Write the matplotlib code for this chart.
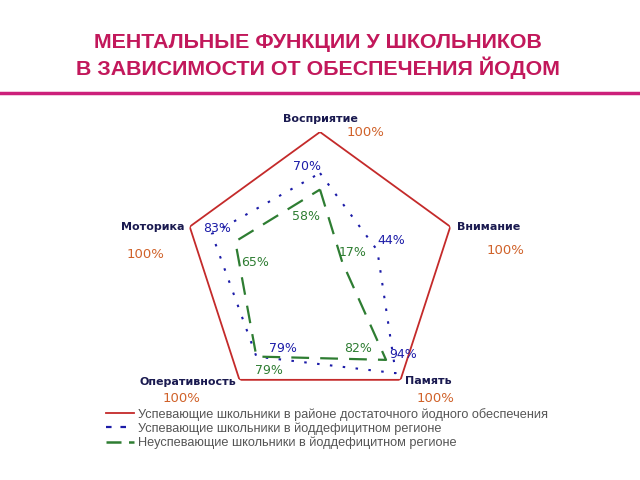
import numpy as np
import matplotlib
matplotlib.use("Agg")
import matplotlib.pyplot as plt
from matplotlib.lines import Line2D

# data
categories = ["Восприятие", "Внимание", "Память", "Оперативность", "Моторика"]
red_vals = [100, 100, 100, 100, 100]
blue_vals = [70, 44, 94, 79, 83]
green_vals = [58, 17, 82, 79, 65]
series_names = [
    "Успевающие школьники в районе достаточного йодного обеспечения",
    "Успевающие школьники в йоддефицитном регионе",
    "Неуспевающие школьники в йоддефицитном регионе",
]

W, H = 640, 480
fig = plt.figure(figsize=(W / 100, H / 100), dpi=100)


def px(x, y):
    return x / W, 1 - y / H


# polar axes: center (320, 269) px, radius 137 px
cx, cy, R = 320, 269, 137
ax = fig.add_axes([(cx - R) / W, (H - cy - R) / H, 2 * R / W, 2 * R / H],
                  projection="polar")
ax.set_theta_zero_location("N")
ax.set_theta_direction(-1)
ax.set_ylim(0, 100)
ax.grid(False)
ax.set_xticks([])
ax.set_yticks([])
ax.spines["polar"].set_visible(False)
ax.patch.set_alpha(0)

angles = np.linspace(0, 2 * np.pi, len(categories), endpoint=False)
ang_closed = np.append(angles, angles[0])


def closed(v):
    return np.append(v, v[0])


red_c = "#c42a2a"
blue_c = "#1c1ca8"
green_c = "#2e7d32"

ax.plot(ang_closed, closed(red_vals), color=red_c, lw=1.3)
ax.plot(ang_closed, closed(blue_vals), color=blue_c, lw=1.5,
        linestyle=(0, (1.2, 5)))
ax.plot(ang_closed, closed(green_vals), color=green_c, lw=1.6,
        linestyle=(0, (8, 5)))

# title
title_c = "#c2185b"
fig.text(*px(318, 43), "МЕНТАЛЬНЫЕ ФУНКЦИИ У ШКОЛЬНИКОВ", ha="center", va="center",
         fontsize=15.4, fontweight="bold", color=title_c, family="Liberation Sans")
fig.text(*px(318, 68), "В ЗАВИСИМОСТИ ОТ ОБЕСПЕЧЕНИЯ ЙОДОМ", ha="center", va="center",
         fontsize=15.4, fontweight="bold", color=title_c, family="Liberation Sans")
fig.add_artist(Line2D([0, 1], [1 - 93 / H, 1 - 93 / H], transform=fig.transFigure,
                      color="#cc1f7a", lw=2.5))

# category labels
cat_pos = [(320, 119, "center"), (457, 227, "left"), (405, 381, "left"),
           (236, 382, "right"), (185, 227, "right")]
for name, (x, y, ha) in zip(categories, cat_pos):
    fig.text(*px(x, y), name, ha=ha, va="center", fontsize=8, fontweight="bold",
             color="#1a1a50")

# value labels
orange = "#d0622a"
red_pos = [(366, 133), (505, 250), (436, 399), (182, 399), (146, 254)]
blue_pos = [(307, 166), (391, 241), (403, 354), (283, 349), (217, 228)]
green_pos = [(306, 217), (353, 252), (358, 348), (269, 370), (255, 262)]
for v, (x, y) in zip(red_vals, red_pos):
    fig.text(*px(x, y), f"{v}%", ha="center", va="center", fontsize=9.5,
             color=orange)
for v, (x, y) in zip(blue_vals, blue_pos):
    fig.text(*px(x, y), f"{v}%", ha="center", va="center", fontsize=9,
             color=blue_c)
for v, (x, y) in zip(green_vals, green_pos):
    fig.text(*px(x, y), f"{v}%", ha="center", va="center", fontsize=9,
             color=green_c)

# legend
handles = [
    Line2D([], [], color=red_c, lw=1.3),
    Line2D([], [], color=blue_c, lw=1.6, linestyle=(0, (2.5, 4))),
    Line2D([], [], color=green_c, lw=1.8, linestyle=(0, (6, 3))),
]
leg = fig.legend(handles, series_names, loc="upper left",
                 bbox_to_anchor=px(106, 408), frameon=False,
                 prop={"family": "Liberation Sans", "size": 9.2},
                 handlelength=2.2, handletextpad=0.3, labelspacing=0.12,
                 borderaxespad=0, borderpad=0)
for t in leg.get_texts():
    t.set_color("#555555")

fig.savefig("out.png", dpi=100, facecolor="white")
